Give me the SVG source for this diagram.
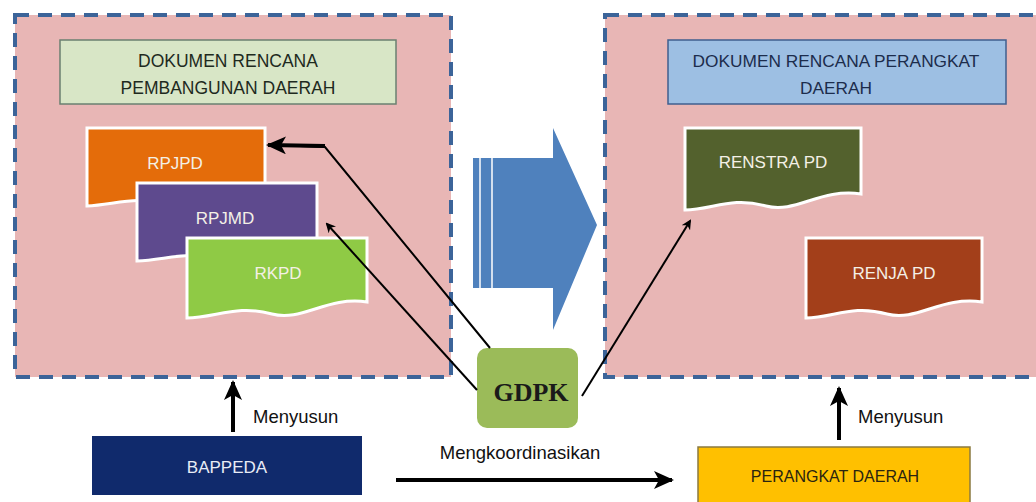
<svg xmlns="http://www.w3.org/2000/svg" width="1036" height="502" viewBox="0 0 1036 502">
<style>
.panel{fill:#e8b6b5;stroke:#3c6499;stroke-width:4;stroke-dasharray:14 9}
.t{font-family:"Liberation Sans",Arial,sans-serif;text-anchor:middle}
.doc{stroke:#ffffff;stroke-width:3}
.wt{fill:#f4f0e6;font-size:17px}
.ln{stroke:#000;stroke-width:2;fill:none}
.lb{font-family:"Liberation Sans",Arial,sans-serif;font-size:18.5px;fill:#111}
</style>
<defs>
<marker id="ah" markerWidth="10" markerHeight="10" refX="8" refY="5" orient="auto" markerUnits="userSpaceOnUse">
<path d="M0,0 L10,5 L0,10 L3,5 Z" fill="#000"/>
</marker>
<marker id="ahb" markerWidth="20" markerHeight="18" refX="18" refY="9" orient="auto" markerUnits="userSpaceOnUse">
<path d="M0,0 L20,9 L0,18 L5,9 Z" fill="#000"/>
</marker>
</defs>
<rect width="1036" height="502" fill="#ffffff"/>

<g id="panel-left">
<rect class="panel" x="15" y="15" width="436" height="362"/>
</g>
<g id="panel-right">
<rect class="panel" x="605" y="15" width="445" height="362"/>
</g>

<g id="title-left">
<rect x="60" y="40" width="336" height="64" fill="#d8e6c6" stroke="#6a8070" stroke-width="1.5"/>
<text class="t" x="228" y="67" font-size="17.5" fill="#1e2a1e">DOKUMEN RENCANA</text>
<text class="t" x="228" y="94" font-size="17.5" fill="#1e2a1e">PEMBANGUNAN DAERAH</text>
</g>
<g id="title-right">
<rect x="668" y="40" width="338" height="64" fill="#9dbfe3" stroke="#3f5f8f" stroke-width="1.5"/>
<text class="t" x="836" y="67" font-size="17.3" fill="#1c2c4c">DOKUMEN RENCANA PERANGKAT</text>
<text class="t" x="836" y="94" font-size="17.3" fill="#1c2c4c">DAERAH</text>
</g>

<g id="rpjpd">
<path class="doc" fill="#e46c0a" d="M87,128 H265 V196 C225,190 200,215 170,205 C135,195 115,205 87,206 Z"/>
<text class="t wt" x="175" y="169">RPJPD</text>
</g>
<g id="rpjmd">
<path class="doc" fill="#5e4a8e" d="M137,183 H317 V251 C277,245 252,270 222,260 C187,250 167,260 137,261 Z"/>
<text class="t wt" x="225" y="224">RPJMD</text>
</g>
<g id="rkpd">
<path class="doc" fill="#8fca45" d="M187,238 H367 V302 C327,296 302,322 272,314 C237,304 215,318 187,318 Z"/>
<text class="t wt" x="278" y="279">RKPD</text>
</g>

<g id="renstra">
<path class="doc" fill="#53612d" d="M685,128 H861 V194 C820,188 796,214 766,206 C731,196 712,210 685,210 Z"/>
<text class="t wt" x="773" y="168">RENSTRA PD</text>
</g>
<g id="renja">
<path class="doc" fill="#a33f1a" d="M806,238 H982 V302 C941,296 917,322 887,314 C852,304 833,318 806,318 Z"/>
<text class="t wt" x="894" y="279">RENJA PD</text>
</g>

<g id="big-arrow">
<path d="M473,158 H553 V128 L597,225 L553,330 V288 H473 Z" fill="#4f81bd"/>
<line x1="480" y1="158" x2="480" y2="288" stroke="#ffffff" stroke-width="1.5"/>
<line x1="492" y1="158" x2="492" y2="288" stroke="#ffffff" stroke-width="1.5"/>
</g>

<g id="gdpk">
<rect x="477" y="348" width="101" height="80" rx="10" fill="#9bbb59"/>
<text x="531" y="401" font-family="'Liberation Serif','Times New Roman',serif" font-weight="bold" font-size="26" text-anchor="middle" fill="#1a1a1a">GDPK</text>
</g>

<g id="bappeda">
<rect x="92" y="436" width="270" height="59" fill="#102a6c"/>
<text class="t" x="227" y="473" font-size="17" fill="#e8ecf6">BAPPEDA</text>
</g>
<g id="perangkat-daerah">
<rect x="698" y="447" width="272" height="60" fill="#ffc000" stroke="#8a7a40" stroke-width="1.5"/>
<text class="t" x="835" y="482" font-size="16" fill="#2a2410">PERANGKAT DAERAH</text>
</g>

<g id="connectors">
<path d="M490,348 L325,147 L300,146" fill="none" stroke="#000" stroke-width="2"/>
<line x1="325" y1="146" x2="268" y2="145" stroke="#000" stroke-width="4" marker-end="url(#ahb)"/>
<line class="ln" x1="477" y1="390" x2="327" y2="224" marker-end="url(#ah)"/>
<line class="ln" x1="582" y1="396" x2="690" y2="221" marker-end="url(#ah)"/>
<line x1="233" y1="432" x2="233" y2="382" stroke="#000" stroke-width="4" marker-end="url(#ahb)"/>
<line x1="839" y1="440" x2="839" y2="388" stroke="#000" stroke-width="4" marker-end="url(#ahb)"/>
<line x1="396" y1="480" x2="672" y2="480" stroke="#000" stroke-width="4" marker-end="url(#ahb)"/>
</g>
<g id="labels">
<text class="lb" x="253" y="423">Menyusun</text>
<text class="lb" x="858" y="423">Menyusun</text>
<text class="lb" x="520" y="459" text-anchor="middle">Mengkoordinasikan</text>
</g>
</svg>
